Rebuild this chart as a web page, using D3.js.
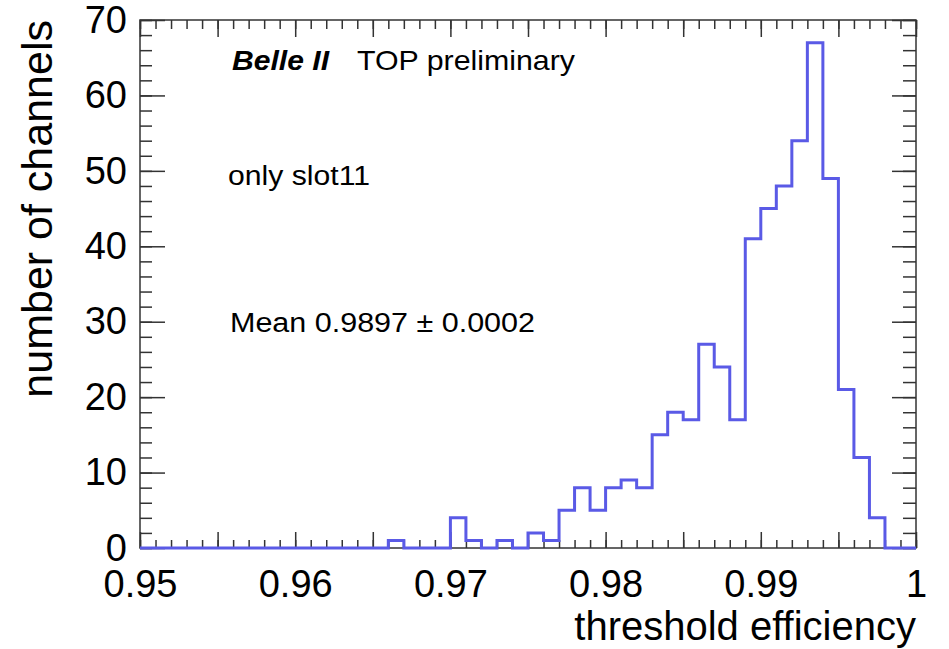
<!DOCTYPE html>
<html>
<head>
<meta charset="utf-8">
<script src="https://cdn.jsdelivr.net/npm/d3@7"></script>
<style>
  html, body { margin: 0; padding: 0; background: #fff; }
  svg { display: block; font-family: "Liberation Sans", Arial, Helvetica, sans-serif; }
</style>
</head>
<body>
<svg id="chart" width="949" height="649"></svg>
<script>
// Histogram of per-channel threshold efficiency (bins of 0.001 from 0.95 to 1.0)
const binEdgesStart = 0.95;
const binWidth = 0.001;
const counts = [
  0, 0, 0, 0, 0, 0, 0, 0, 0, 0,      // 0.950 - 0.959
  0, 0, 0, 0, 0, 0, 1, 0, 0, 0,      // 0.960 - 0.969
  4, 1, 0, 1, 0, 2, 1, 5, 8, 5,      // 0.970 - 0.979
  8, 9, 8, 15, 18, 17, 27, 24, 17, 41, // 0.980 - 0.989
  45, 48, 54, 67, 49, 21, 12, 4, 0, 0  // 0.990 - 0.999
];
const xMajorTicks = d3.range(0, 11).map(i => +(0.95 + i * 0.005).toFixed(3));
const xMinorTicks = d3.range(0, 51).map(i => +(0.95 + i * 0.001).toFixed(3));
const yMajorTicks = [0, 10, 20, 30, 40, 50, 60, 70];
const yMinorTicks = d3.range(0, 71, 2);
const xTitle = "threshold efficiency";
const yTitle = "number of channels";
const labelExperiment = "Belle II";
const labelStatus = "TOP preliminary";
const labelSelection = "only slot11";
const labelMean = "Mean 0.9897 \u00b1 0.0002";

const svg = d3.select("#chart");
const plotLeft = 140, plotRight = 916, plotTop = 20, plotBottom = 548;

const x = d3.scaleLinear().domain([0.95, 1.0]).range([plotLeft, plotRight]);
const y = d3.scaleLinear().domain([0, 70]).range([plotBottom, plotTop]);

const axisColor = "#333";

// frame
svg.append("rect")
  .attr("x", plotLeft).attr("y", plotTop)
  .attr("width", plotRight - plotLeft).attr("height", plotBottom - plotTop)
  .attr("fill", "none").attr("stroke", axisColor).attr("stroke-width", 1.5);

function styleAxis(g) {
  g.select(".domain").remove();
  g.selectAll(".tick line").attr("stroke", axisColor).attr("stroke-width", 1.5);
}

const fmtX = d => {
  const h = Math.round(d * 1000);
  return (h % 10 === 0) ? String(+d.toFixed(2)) : "";
};

// bottom axis: labelled majors + minors, ticks pointing inward
svg.append("g").attr("transform", `translate(0,${plotBottom})`)
  .call(d3.axisBottom(x).tickValues(xMinorTicks).tickSizeInner(-8).tickSizeOuter(0).tickFormat(""))
  .call(styleAxis);
svg.append("g").attr("transform", `translate(0,${plotBottom})`)
  .call(d3.axisBottom(x).tickValues(xMajorTicks).tickSizeInner(-16).tickSizeOuter(0).tickPadding(22).tickFormat(fmtX))
  .call(styleAxis)
  .call(g => g.selectAll("text").attr("font-size", 38).attr("fill", "#000")
    .attr("font-family", "Liberation Sans, Arial, sans-serif"));

// top mirror axis
svg.append("g").attr("transform", `translate(0,${plotTop})`)
  .call(d3.axisTop(x).tickValues(xMinorTicks).tickSizeInner(-9).tickSizeOuter(0).tickFormat(""))
  .call(styleAxis);
svg.append("g").attr("transform", `translate(0,${plotTop})`)
  .call(d3.axisTop(x).tickValues(xMajorTicks).tickSizeInner(-17).tickSizeOuter(0).tickFormat(""))
  .call(styleAxis);

// left axis
svg.append("g").attr("transform", `translate(${plotLeft},0)`)
  .call(d3.axisLeft(y).tickValues(yMinorTicks).tickSizeInner(-12).tickSizeOuter(0).tickFormat(""))
  .call(styleAxis);
svg.append("g").attr("transform", `translate(${plotLeft},0)`)
  .call(d3.axisLeft(y).tickValues(yMajorTicks).tickSizeInner(-25).tickSizeOuter(0).tickPadding(13).tickFormat(d3.format("d")))
  .call(styleAxis)
  .call(g => g.selectAll("text").attr("font-size", 38).attr("fill", "#000")
    .attr("font-family", "Liberation Sans, Arial, sans-serif"));

// right mirror axis
svg.append("g").attr("transform", `translate(${plotRight},0)`)
  .call(d3.axisRight(y).tickValues(yMinorTicks).tickSizeInner(-13).tickSizeOuter(0).tickFormat(""))
  .call(styleAxis);
svg.append("g").attr("transform", `translate(${plotRight},0)`)
  .call(d3.axisRight(y).tickValues(yMajorTicks).tickSizeInner(-24).tickSizeOuter(0).tickFormat(""))
  .call(styleAxis);

// histogram outline as a step line
const stepPoints = counts.map((c, i) => [binEdgesStart + i * binWidth, c]);
stepPoints.push([binEdgesStart + counts.length * binWidth, counts[counts.length - 1]]);
const line = d3.line().x(d => x(d[0])).y(d => y(d[1])).curve(d3.curveStepAfter);
svg.append("path")
  .datum(stepPoints)
  .attr("d", line)
  .attr("fill", "none")
  .attr("stroke", "#5a5ae6")
  .attr("stroke-width", 3)
  .attr("stroke-linejoin", "miter");

// axis titles
svg.append("text")
  .attr("x", plotRight).attr("y", 640)
  .attr("text-anchor", "end")
  .attr("font-size", 40)
  .attr("fill", "#000")
  .text(xTitle);

svg.append("text")
  .attr("transform", `translate(52,20) rotate(-90)`)
  .attr("text-anchor", "end")
  .attr("font-size", 43)
  .attr("fill", "#000")
  .text(yTitle);

// annotations
svg.append("text")
  .attr("x", 232).attr("y", 70)
  .attr("font-size", 28).attr("font-weight", "bold").attr("font-style", "italic")
  .attr("textLength", 97).attr("lengthAdjust", "spacingAndGlyphs")
  .attr("fill", "#000")
  .text(labelExperiment);

svg.append("text")
  .attr("x", 357).attr("y", 70)
  .attr("font-size", 28)
  .attr("textLength", 218).attr("lengthAdjust", "spacingAndGlyphs")
  .attr("fill", "#000")
  .text(labelStatus);

svg.append("text")
  .attr("x", 228).attr("y", 185)
  .attr("font-size", 27)
  .attr("textLength", 142).attr("lengthAdjust", "spacingAndGlyphs")
  .attr("fill", "#000")
  .text(labelSelection);

svg.append("text")
  .attr("x", 230).attr("y", 332)
  .attr("font-size", 27)
  .attr("textLength", 305).attr("lengthAdjust", "spacingAndGlyphs")
  .attr("fill", "#000")
  .text(labelMean);
</script>
</body>
</html>
